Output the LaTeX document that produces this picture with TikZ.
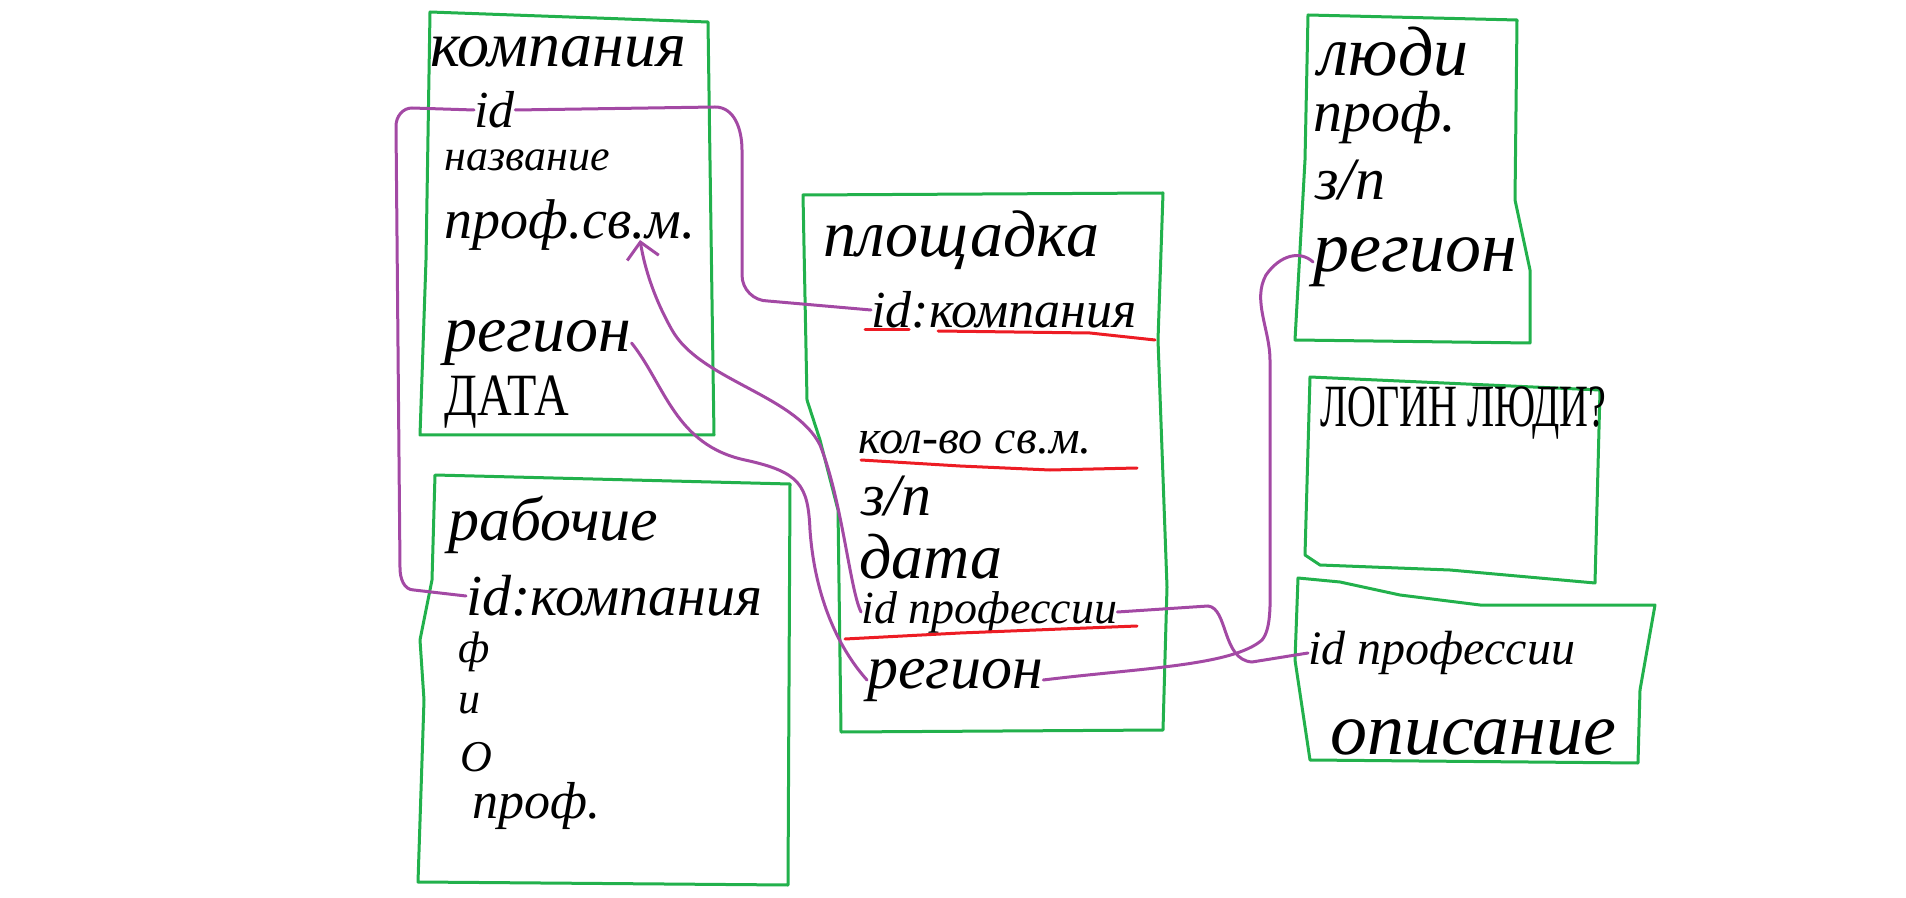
\documentclass[tikz,border=0pt]{standalone}
\usepackage{fontspec}
\setmainfont{Liberation Serif}
\usetikzlibrary{arrows.meta}
\definecolor{verde}{RGB}{34,177,76}
\definecolor{viola}{RGB}{163,73,164}
\definecolor{rosso}{RGB}{237,28,36}

\begin{document}
\begin{tikzpicture}[x=0.5pt,y=-0.5pt,
        tabella/.style={draw=verde, line width=1.5pt, line join=round},
        legame/.style={draw=viola, line width=1.5pt, line cap=round},
        sotto/.style={draw=rosso, line width=1.5pt, line cap=round},
        testo/.style={anchor=west, inner sep=0pt, font=\fontsize{#1}{#1}\selectfont\itshape},
        maiusc/.style={anchor=west, inner sep=0pt, font=\fontsize{#1}{#1}\selectfont}]

        \useasboundingbox (0,0) rectangle (1906,898);

        % Disegna le tabelle
        \draw[tabella] (430,12) -- (708,22) -- (712,300) -- (714,435) -- (420,435) -- (426,260) -- cycle; % compagnia
        \draw[tabella] (435,475) -- (790,484) -- (788,885) -- (418,882) -- (424,700) -- (420,640) -- (432,580) -- cycle; % operai
        \draw[tabella] (803,195) -- (1163,193) -- (1158,340) -- (1167,587) -- (1163,730) -- (841,732) -- (838,510) -- (820,440) -- (807,400) -- cycle; % cantiere
        \draw[tabella] (1308,15) -- (1517,20) -- (1515,200) -- (1530,270) -- (1530,343) -- (1295,340) -- (1305,160) -- cycle; % persone
        \draw[tabella] (1310,377) -- (1600,390) -- (1595,583) -- (1450,570) -- (1320,565) -- (1305,555) -- cycle; % login
        \draw[tabella] (1298,578) -- (1340,582) -- (1400,595) -- (1480,605) -- (1655,605) -- (1640,690) -- (1638,763) -- (1310,760) -- (1295,660) -- cycle; % professione

        % Testi della compagnia
        \node[testo=32] (ktitolo) at (430,52) {компания};
        \node[testo=26] (kid) at (474,110) {id};
        \node[testo=22] (knome) at (444,160) {название};
        \node[testo=28] (kprof) at (444,225) {проф.св.м.};
        \node[testo=33] (kreg) at (444,343) {регион};
        \node[maiusc=24] (kdata) at (444,402) {\scalebox{1}[1.25]{ДАТА}};
        \coordinate (kpunta) at (640,240);

        % Testi degli operai
        \node[testo=31] (rtitolo) at (448,525) {рабочие};
        \node[testo=29] (rid) at (466,596) {id:компания};
        \node[testo=22] (rf) at (458,652) {ф};
        \node[testo=22] (ri) at (458,704) {и};
        \node[testo=22] (ro) at (460,757) {О};
        \node[testo=26] (rprof) at (472,806) {проф.};

        % Testi del cantiere
        \node[testo=33] (ptitolo) at (823,240) {площадка};
        \node[testo=26] (pid) at (871,310) {id:компания};
        \node[testo=24] (pkol) at (858,443) {кол-во св.м.};
        \node[testo=30] (pzp) at (861,496) {з/п};
        \node[testo=32] (pdata) at (859,557) {дата};
        \node[testo=23] (pprof) at (861,612) {id профессии};
        \node[testo=31] (preg) at (867,680) {регион};

        % Testi delle persone, login e professione
        \node[testo=35] (ltitolo) at (1318,52) {люди};
        \node[testo=29] (lprof) at (1313,118) {проф.};
        \node[testo=30] (lzp) at (1315,180) {з/п};
        \node[testo=36] (lreg) at (1313,262) {регион};
        \node[maiusc=20] (login) at (1320,413) {\scalebox{1}[1.5]{ЛОГИН ЛЮДИ?}};
        \node[testo=24] (fid) at (1308,653) {id профессии};
        \node[testo=37] (fdesc) at (1330,737) {описание};

        % Sottolineature rosse
        \draw[sotto] (865,330) -- (909,330);
        \draw[sotto] (938,331) -- (1090,333) -- (1155,340);
        \draw[sotto] (861,460) -- (960,466) -- (1050,470) -- (1137,468);
        \draw[sotto] (845,639) -- (960,633) -- (1137,626);

        % Legami tra le tabelle
        \draw[legame] (kid.east) -- (715,107) to[out=0,in=90] (742,150) -- (742,275) to[out=-90,in=180] (768,301) -- (pid.west);
        \draw[legame] (kid.west) -- (412,108) to[out=180,in=90] (396,126) -- (400,568) to[out=-90,in=180] (414,590) -- (rid.west);
        \draw[legame, -{Straight Barb[length=8pt,width=16pt]}] (pprof.west) .. controls (850,590) and (842,500) .. (820,445) .. controls (795,395) and (700,380) .. (672,330) .. controls (655,300) and (645,270) .. (kpunta);
        \draw[legame] (kreg.east) .. controls (665,385) and (675,445) .. (745,460) .. controls (800,472) and (808,485) .. (810,530) .. controls (815,600) and (840,650) .. (preg.west);
        \draw[legame] (pprof.east) -- (1208,606) .. controls (1228,608) and (1222,660) .. (1252,662) -- (fid.west);
        \draw[legame] (preg.east) .. controls (1140,668) and (1232,666) .. (1262,640) .. controls (1272,628) and (1270,600) .. (1270,570) -- (1270,360) .. controls (1270,330) and (1252,300) .. (1266,275) .. controls (1280,255) and (1300,250) .. (lreg.west);

\end{tikzpicture}
\end{document}
